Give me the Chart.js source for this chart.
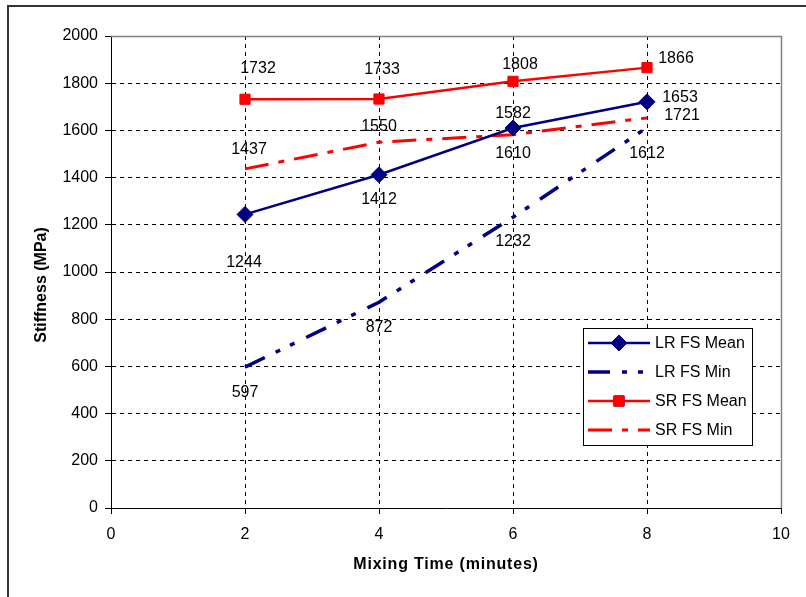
<!DOCTYPE html>
<html>
<head>
<meta charset="utf-8">
<script src="https://cdn.jsdelivr.net/npm/chart.js@4/dist/chart.umd.min.js"></script>
<style>
  html, body { margin: 0; padding: 0; background: #fff; }
  #wrap { width: 806px; height: 597px; }
</style>
</head>
<body>
<div id="wrap"><canvas id="c" width="806" height="597"></canvas></div>
<script>
// Mixing time (minutes) on the x axis
const mixingTimes = [2, 4, 6, 8];

// Stiffness (MPa) per series
const lrMean = [1244, 1412, 1610, 1721];
const lrMin  = [597, 872, 1232, 1612];
const srMean = [1732, 1733, 1808, 1866];
const srMin  = [1437, 1550, 1582, 1653];

const seriesNames = ['LR FS Mean', 'LR FS Min', 'SR FS Mean', 'SR FS Min'];

// Axis tick values
const xTicks = [0, 2, 4, 6, 8, 10];
const yTicks = [0, 200, 400, 600, 800, 1000, 1200, 1400, 1600, 1800, 2000];

// Where each value label sits relative to its point (px)
const labelOffsets = [
  [[-1, 48], [0, 25], [0, 26], [35, 14]],
  [[0, 25], [0, 25], [0, 24], [0, 26]],
  [[13, -31], [3, -29], [7, -17], [29, -9]],
  [[4, -19], [0, -16], [0, -21], [33, -20]]
];

const NAVY = '#000080';
const RED = '#FF0000';
const FONT = "'Liberation Sans', Arial, sans-serif";

const toPoints = vals => mixingTimes.map((t, i) => ({ x: t, y: vals[i] }));

const datasets = [
  {
    label: seriesNames[0], data: toPoints(lrMean),
    borderColor: NAVY, backgroundColor: NAVY, borderWidth: 2.5,
    pointStyle: 'rectRot', pointRadius: 8, pointBorderWidth: 1,
    pointBackgroundColor: NAVY, pointBorderColor: NAVY
  },
  {
    label: seriesNames[1], data: toPoints(lrMin),
    borderColor: NAVY, backgroundColor: NAVY, borderWidth: 3.5,
    borderDash: [22, 12, 5, 11, 5, 13], pointRadius: 0
  },
  {
    label: seriesNames[2], data: toPoints(srMean),
    borderColor: RED, backgroundColor: RED, borderWidth: 2.5,
    pointStyle: 'rect', pointRadius: 7.2, pointBorderWidth: 1,
    pointBackgroundColor: RED, pointBorderColor: RED
  },
  {
    label: seriesNames[3], data: toPoints(srMin),
    borderColor: RED, backgroundColor: RED, borderWidth: 3,
    borderDash: [24, 10, 6, 10], pointRadius: 0
  }
];

// Page background and outer frame
const framePlugin = {
  id: 'frame',
  beforeDraw(chart) {
    const ctx = chart.ctx;
    ctx.save();
    ctx.fillStyle = '#fff';
    ctx.fillRect(0, 0, chart.width, chart.height);
    ctx.strokeStyle = '#333';
    ctx.lineWidth = 2;
    ctx.beginPath();
    ctx.moveTo(8, chart.height);
    ctx.lineTo(8, 6);
    ctx.lineTo(chart.width, 6);
    ctx.stroke();
    ctx.restore();
  },
  beforeDatasetsDraw(chart) {
    // grey top/right edges of the plot area
    const { ctx, chartArea: a } = chart;
    ctx.save();
    ctx.strokeStyle = '#808080';
    ctx.lineWidth = 1.5;
    ctx.beginPath();
    ctx.moveTo(a.left, a.top + 0.5);
    ctx.lineTo(a.right + 0.5, a.top + 0.5);
    ctx.lineTo(a.right + 0.5, a.bottom);
    ctx.stroke();
    ctx.restore();
  }
};

// Value labels next to each point
const valueLabels = {
  id: 'valueLabels',
  afterDatasetsDraw(chart) {
    const ctx = chart.ctx;
    ctx.save();
    ctx.font = '16px ' + FONT;
    ctx.fillStyle = '#000';
    ctx.textAlign = 'center';
    ctx.textBaseline = 'middle';
    chart.data.datasets.forEach((ds, di) => {
      const meta = chart.getDatasetMeta(di);
      meta.data.forEach((pt, i) => {
        const [dx, dy] = labelOffsets[di][i];
        ctx.fillText(String(ds.data[i].y), pt.x + dx, pt.y + dy);
      });
    });
    ctx.restore();
  }
};

// Axis titles and the boxed legend inside the plot
const extras = {
  id: 'extras',
  afterDraw(chart) {
    const { ctx, chartArea: a } = chart;
    ctx.save();
    ctx.fillStyle = '#000';
    ctx.textAlign = 'center';
    ctx.textBaseline = 'middle';
    ctx.font = 'bold 16px ' + FONT;
    if ('letterSpacing' in ctx) ctx.letterSpacing = '0.8px';
    ctx.fillText('Mixing Time (minutes)', (a.left + a.right) / 2, 565);
    if ('letterSpacing' in ctx) ctx.letterSpacing = '0px';
    ctx.translate(42, 285);
    ctx.rotate(-Math.PI / 2);
    ctx.fillText('Stiffness (MPa)', 0, 0);
    ctx.restore();

    // legend
    ctx.save();
    const bx = 583.5, by = 328.5, bw = 169, bh = 117;
    ctx.fillStyle = '#fff';
    ctx.fillRect(bx, by, bw, bh);
    ctx.strokeStyle = '#000';
    ctx.lineWidth = 1;
    ctx.strokeRect(bx, by, bw, bh);
    const rowY = [343, 372, 401, 430];
    chart.data.datasets.forEach((ds, i) => {
      const y = rowY[i];
      ctx.save();
      ctx.strokeStyle = ds.borderColor;
      ctx.lineWidth = ds.borderWidth;
      ctx.setLineDash(ds.borderDash || []);
      ctx.beginPath();
      ctx.moveTo(588, y);
      ctx.lineTo(650, y);
      ctx.stroke();
      ctx.restore();
      if (ds.pointRadius) {
        Chart.helpers.drawPoint(ctx, {
          pointStyle: ds.pointStyle, radius: ds.pointRadius, borderWidth: 1, rotation: 0
        }, 619, y);
        ctx.fillStyle = ds.pointBackgroundColor;
        ctx.strokeStyle = ds.pointBorderColor;
        ctx.fill();
        ctx.stroke();
      }
      ctx.fillStyle = '#000';
      ctx.font = '16px ' + FONT;
      ctx.textAlign = 'left';
      ctx.textBaseline = 'middle';
      ctx.fillText(ds.label, 655, y + 1);
    });
    ctx.restore();
  }
};

// Dashed grid everywhere except along the plot's outer edges
const gridColor = edge => c => (c.tick && c.tick.value === edge ? 'rgba(0,0,0,0)' : '#000');

new Chart(document.getElementById('c'), {
  type: 'line',
  data: { datasets },
  options: {
    responsive: false,
    animation: false,
    devicePixelRatio: 1,
    layout: { padding: { top: 36, right: 25, left: 0, bottom: 0 } },
    elements: { line: { tension: 0, fill: false } },
    plugins: { legend: { display: false }, tooltip: { enabled: false } },
    scales: {
      x: {
        type: 'linear', min: 0, max: 10,
        afterBuildTicks(s) { s.ticks = xTicks.map(v => ({ value: v })); },
        afterFit(s) { s.height = 89; },
        ticks: { color: '#000', font: { family: FONT, size: 16 }, padding: 11, maxRotation: 0,
                 callback: v => String(v) },
        grid: { color: gridColor(10), lineWidth: 1, tickLength: 6, tickColor: '#000', tickBorderDash: [] },
        border: { color: '#000', width: 1, dash: [4, 4] }
      },
      y: {
        type: 'linear', min: 0, max: 2000,
        afterBuildTicks(s) { s.ticks = yTicks.map(v => ({ value: v })); },
        afterFit(s) { s.width = 111; },
        ticks: { color: '#000', font: { family: FONT, size: 16 }, padding: 7,
                 callback: v => String(v) },
        grid: { color: gridColor(2000), lineWidth: 1, tickLength: 6, tickColor: '#000', tickBorderDash: [] },
        border: { color: '#000', width: 1, dash: [4, 4] }
      }
    }
  },
  plugins: [framePlugin, valueLabels, extras]
});
</script>
</body>
</html>
